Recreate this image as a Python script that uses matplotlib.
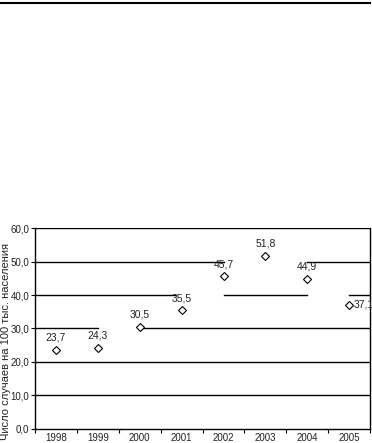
# Заболеваемость по годам: точки с подписями значений, сетка с разрывами как в оригинале
import numpy as np
import matplotlib.pyplot as plt
from matplotlib.lines import Line2D

years = ["1998", "1999", "2000", "2001", "2002", "2003", "2004", "2005"]
values = [23.7, 24.3, 30.5, 35.5, 45.7, 51.8, 44.9, 37.1]
labels = ["23,7", "24,3", "30,5", "35,5", "45,7", "51,8", "44,9", "37,1"]
yticks = [0, 10, 20, 30, 40, 50, 60]
ylabel = "Число случаев на 100 тыс. населения"

# разрывы линий сетки (уровень, от категории, до категории)
grid_gaps = [(30, 1, 2), (40, 2.85, 4), (50, 4, 6), (40, 6, 7)]

plt.rcParams['font.family'] = ['Liberation Sans', 'DejaVu Sans']

fig = plt.figure(figsize=(3.72, 4.43), dpi=100)
ax = fig.add_axes([0.094, 0.032, 0.901, 0.453])

x = np.arange(len(years))
xmin, xmax = -0.5, len(years) - 0.5

# сетка
for y in yticks[1:]:
    segs = [(xmin, xmax)]
    for lvl, a, b in grid_gaps:
        if lvl == y:
            new = []
            for s, e in segs:
                if a > s and b < e:
                    new += [(s, a), (b, e)]
                else:
                    new.append((s, e))
            segs = new
    for s, e in segs:
        ax.plot([s, e], [y, y], color="black", lw=1.0, zorder=1)

ax.plot(x, values, linestyle="none", marker="D", markersize=4.0,
        markerfacecolor="white", markeredgecolor="black", markeredgewidth=0.8, zorder=3)

for i, (v, t) in enumerate(zip(values, labels)):
    if i == len(values) - 1:
        ax.annotate(t, (x[i], v), xytext=(3, 0), textcoords="offset points",
                    ha="left", va="center", fontsize=7.5, color="#222222",
                    annotation_clip=False)
    else:
        ax.annotate(t, (x[i], v), xytext=(0, 5), textcoords="offset points",
                    ha="center", va="bottom", fontsize=7.5, color="#222222")

ax.set_xlim(xmin, xmax)
ax.set_ylim(0, 60)
ax.set_yticks(yticks)
ax.set_yticklabels([f"{t:.1f}".replace(".", ",") for t in yticks], fontsize=7, color="#222222")
ax.set_xticks(x)
ax.set_xticklabels(years, fontsize=7, color="#222222")
ax.set_xticks(np.arange(xmin, xmax + 0.01, 1), minor=True)
ax.tick_params(axis="x", which="major", length=0, pad=3)
ax.tick_params(axis="x", which="minor", length=3, direction="out", width=0.8)
ax.tick_params(axis="y", length=3, direction="out", width=0.8, pad=1)

# подпись оси Y вручную, чтобы не обрезалась у края
fig.text(0.016, 0.23, ylabel, rotation=90, ha="center", va="center",
         fontsize=8, color="#222222")

for side in ["left", "bottom", "right"]:
    ax.spines[side].set_linewidth(1.0)
    ax.spines[side].set_color("black")
ax.spines["top"].set_visible(False)

# линия сверху страницы
fig.add_artist(Line2D([0.0, 0.995], [0.993, 0.993], color="black", lw=1.5,
                      transform=fig.transFigure))

fig.savefig("out.png", dpi=100)
